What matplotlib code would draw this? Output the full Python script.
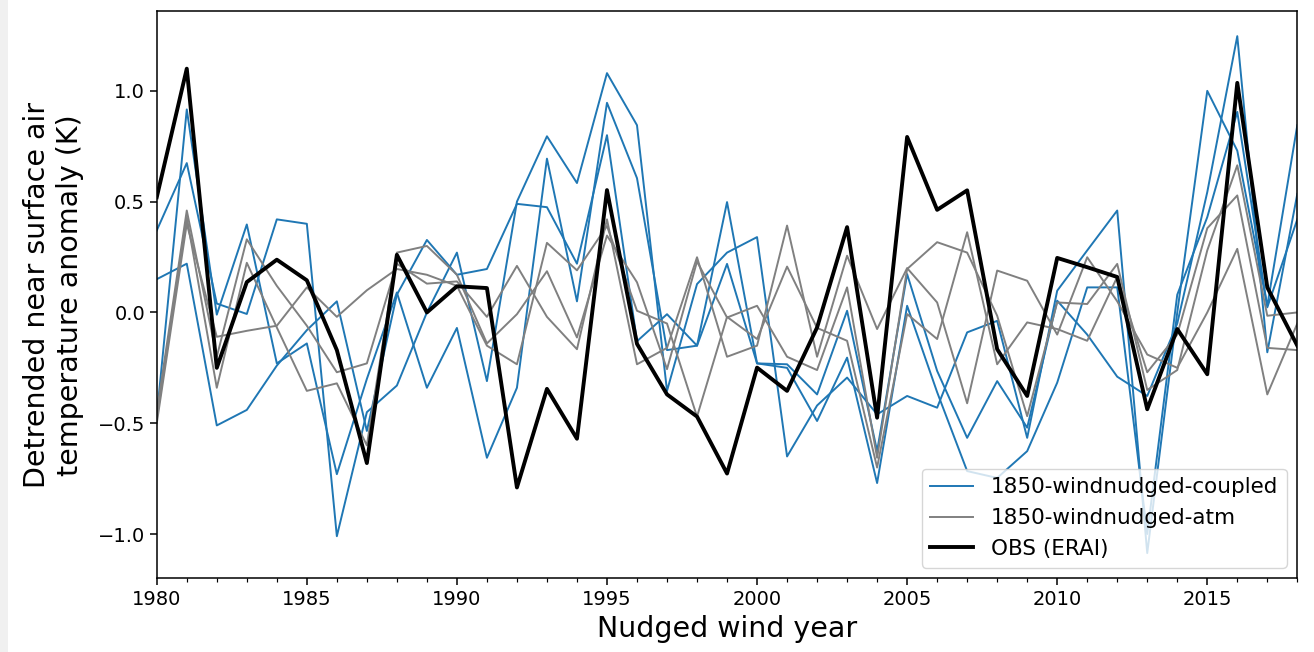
import numpy as np
import matplotlib
matplotlib.use('Agg')
from matplotlib import pyplot as plt
from matplotlib.patches import Rectangle
from matplotlib.ticker import MultipleLocator

years = np.arange(1980, 2019)

# coupled runs (blue)
coupled_1 = [0.15, 0.22, -0.51, -0.44, -0.24, -0.08, 0.05, -0.535, 0.08, 0.327,
             0.17, 0.196, 0.49, 0.475, 0.22, 0.80, -0.13, -0.008, -0.15, 0.498,
             -0.23, -0.234, -0.37, 0.0075, -0.626, 0.173, -0.264, -0.566, -0.31, -0.52,
             0.053, -0.1, -0.29, -0.377, -0.05, 0.543, 1.247, -0.18, 0.535]
coupled_2 = [-0.47, 0.916, -0.01, 0.397, -0.23, -0.14, -0.73, -0.30, 0.09, -0.34,
             -0.07, -0.656, -0.34, 0.694, 0.05, 0.946, 0.606, -0.17, -0.15, 0.219,
             -0.23, -0.25, -0.49, -0.204, -0.77, 0.03, -0.36, -0.716, -0.747, -0.626,
             -0.317, 0.113, 0.113, -1.0, 0.08, 0.43, 0.905, 0.023, 0.42]
coupled_3 = [0.37, 0.674, 0.04, -0.007, 0.42, 0.40, -1.01, -0.45, -0.33, 0.0,
             0.27, -0.31, 0.50, 0.795, 0.584, 1.08, 0.845, -0.354, 0.128, 0.27,
             0.34, -0.65, -0.42, -0.294, -0.46, -0.377, -0.43, -0.09, -0.038, -0.566,
             0.098, 0.28, 0.46, -1.086, 0.0, 1.0, 0.73, 0.03, 0.845]

# atmosphere-only runs (gray)
atm_1 = [-0.45, 0.46, -0.2, 0.33, 0.12, -0.06, -0.27, -0.23, 0.22, 0.13,
         0.14, -0.02, 0.21, -0.02, -0.166, 0.42, -0.234, -0.16, 0.249, -0.2,
         -0.15, 0.392, -0.2, 0.256, -0.075, 0.2, 0.045, -0.41, 0.189, 0.143,
         -0.1, 0.249, 0.05, -0.19, -0.25, 0.0, 0.287, -0.37, -0.05]
atm_2 = [-0.48, 0.43, -0.34, 0.224, -0.068, -0.354, -0.32, -0.6, 0.27, 0.30,
         0.17, -0.14, -0.008, 0.186, -0.113, 0.347, 0.136, -0.256, 0.23, -0.023,
         0.03, -0.2, -0.26, 0.113, -0.656, 0.196, 0.317, 0.27, -0.015, -0.468,
         0.045, 0.038, 0.219, -0.35, -0.26, 0.28, 0.664, -0.015, 0.0]
atm_3 = [-0.5, 0.40, -0.11, -0.083, -0.06, 0.113, -0.02, 0.1, 0.196, 0.17,
         0.12, -0.15, -0.234, 0.314, 0.19, 0.39, 0.0075, -0.05, -0.47, -0.02,
         -0.12, 0.207, -0.07, -0.128, -0.70, -0.0075, -0.12, 0.362, -0.234, -0.045,
         -0.075, -0.128, 0.16, -0.27, -0.1, 0.38, 0.528, -0.16, -0.17]

# observations
obs = [0.52, 1.10, -0.25, 0.137, 0.238, 0.145, -0.17, -0.68, 0.26, 0.0,
       0.118, 0.11, -0.79, -0.345, -0.57, 0.552, -0.142, -0.37, -0.47, -0.727,
       -0.249, -0.354, -0.068, 0.385, -0.475, 0.792, 0.463, 0.551, -0.166, -0.377,
       0.246, 0.204, 0.16, -0.437, -0.075, -0.279, 1.036, 0.113, -0.15]

fig = plt.figure(figsize=(13.14, 6.52), dpi=100)
fig.patches.append(Rectangle((0, 0), 8/1314, 1, transform=fig.transFigure,
                             facecolor='#f0f0f0', edgecolor='none'))
ax = fig.add_axes([0.1193, 0.113, 0.868, 0.870])

for i, c in enumerate([coupled_1, coupled_2, coupled_3]):
    ax.plot(years, c, color='#1f77b4', lw=1.4,
            label='1850-windnudged-coupled' if i == 0 else None)
for i, a in enumerate([atm_1, atm_2, atm_3]):
    ax.plot(years, a, color='gray', lw=1.4,
            label='1850-windnudged-atm' if i == 0 else None)
ax.plot(years, obs, color='black', lw=2.8, label='OBS (ERAI)')

ax.set_xlim(1980, 2018)
ax.set_ylim(-1.2, 1.36)
ax.set_xticks([1980, 1985, 1990, 1995, 2000, 2005, 2010, 2015])
ax.xaxis.set_minor_locator(MultipleLocator(1))
ax.set_yticks([-1.0, -0.5, 0.0, 0.5, 1.0])
ax.tick_params(which='major', labelsize=14, length=4.9, width=1.1)
ax.tick_params(which='minor', length=2.8, width=0.85)
for s in ax.spines.values():
    s.set_linewidth(1.1)
ax.set_xlabel('Nudged wind year', fontsize=20.5)
ax.set_ylabel('Detrended near surface air\ntemperature anomaly (K)', fontsize=20.5,
              labelpad=10)
ax.legend(loc='lower right', fontsize=15.5)

plt.savefig('out.png', dpi=100)
